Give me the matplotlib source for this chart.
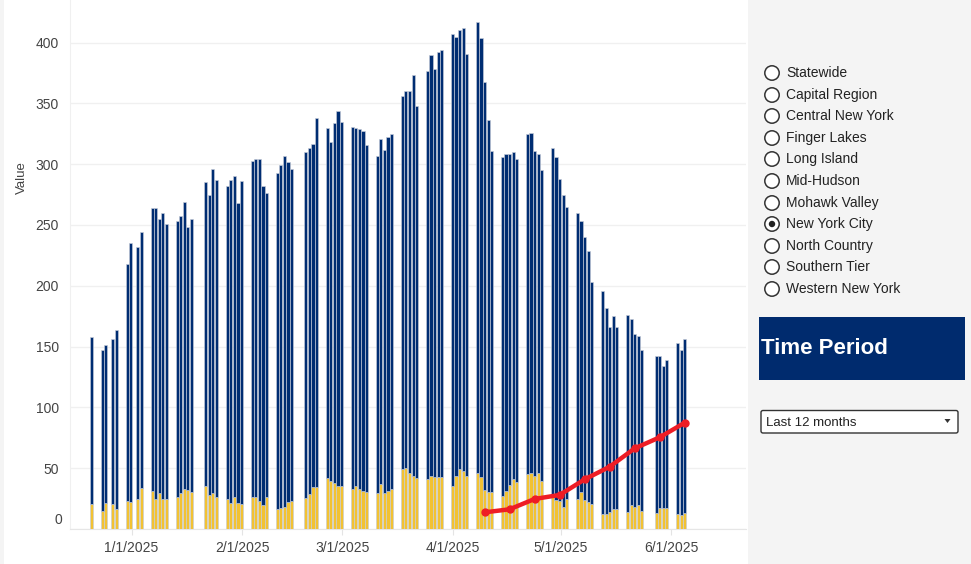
import numpy as np
import pandas as pd
import matplotlib
matplotlib.use("Agg")
import matplotlib.pyplot as plt
import matplotlib.dates as mdates
import matplotlib.patches as mpatches

plt.rcParams["font.family"] = ["Liberation Sans", "DejaVu Sans"]

# ── Data (business days, NYC) ────────────────────────────────────────────────
dates = [
    "2024-12-20", "2024-12-23", "2024-12-24", "2024-12-26", "2024-12-27", "2024-12-30", "2024-12-31",
    "2025-01-02", "2025-01-03", "2025-01-06", "2025-01-07", "2025-01-08", "2025-01-09", "2025-01-10",
    "2025-01-13", "2025-01-14", "2025-01-15", "2025-01-16", "2025-01-17", "2025-01-21", "2025-01-22",
    "2025-01-23", "2025-01-24", "2025-01-27", "2025-01-28", "2025-01-29", "2025-01-30", "2025-01-31",
    "2025-02-03", "2025-02-04", "2025-02-05", "2025-02-06", "2025-02-07", "2025-02-10", "2025-02-11",
    "2025-02-12", "2025-02-13", "2025-02-14", "2025-02-18", "2025-02-19", "2025-02-20", "2025-02-21",
    "2025-02-24", "2025-02-25", "2025-02-26", "2025-02-27", "2025-02-28",
    "2025-03-03", "2025-03-04", "2025-03-05", "2025-03-06", "2025-03-07", "2025-03-10", "2025-03-11",
    "2025-03-12", "2025-03-13", "2025-03-14", "2025-03-17", "2025-03-18", "2025-03-19", "2025-03-20",
    "2025-03-21", "2025-03-24", "2025-03-25", "2025-03-26", "2025-03-27", "2025-03-28", "2025-03-31",
    "2025-04-01", "2025-04-02", "2025-04-03", "2025-04-04", "2025-04-07", "2025-04-08", "2025-04-09",
    "2025-04-10", "2025-04-11", "2025-04-14", "2025-04-15", "2025-04-16", "2025-04-17", "2025-04-18",
    "2025-04-21", "2025-04-22", "2025-04-23", "2025-04-24", "2025-04-25", "2025-04-28", "2025-04-29",
    "2025-04-30", "2025-05-01", "2025-05-02", "2025-05-05", "2025-05-06", "2025-05-07", "2025-05-08",
    "2025-05-09", "2025-05-12", "2025-05-13", "2025-05-14", "2025-05-15", "2025-05-16", "2025-05-19",
    "2025-05-20", "2025-05-21", "2025-05-22", "2025-05-23", "2025-05-27", "2025-05-28", "2025-05-29",
    "2025-05-30", "2025-06-02", "2025-06-03", "2025-06-04",
]

total = [
    158, 147, 151, 156, 164, 218, 235,
    232, 244, 264, 264, 255, 260, 251,
    253, 257, 269, 248, 255, 285, 275,
    296, 287, 282, 287, 290, 268, 286,
    303, 304, 304, 282, 276, 293, 299,
    307, 302, 296, 310, 313, 317, 338,
    330, 318, 334, 344, 335,
    331, 330, 329, 327, 316, 307, 321,
    312, 322, 325, 356, 360, 360, 373,
    348, 377, 390, 378, 392, 394, 407,
    405, 410, 412, 391, 417, 404, 368,
    336, 311, 306, 308, 308, 310, 304,
    325, 326, 311, 308, 295, 313, 306,
    288, 275, 265, 260, 253, 240, 229,
    203, 196, 182, 166, 175, 166, 176,
    173, 160, 159, 147, 142, 142, 134,
    139, 153, 147, 156,
]

yellow = [
    20.6, 14.5, 21, 20.6, 16.7, 23, 22,
    24.7, 33.5, 31.2, 24.7, 29.3, 24.7, 24.7,
    26.6, 29.3, 32.9, 32, 30.7, 35.4, 27.7,
    29.3, 26.6, 24.7, 21, 26.6, 21.5, 20.6,
    26, 26.6, 23, 19.7, 26, 16.4, 17.5,
    18.4, 21.8, 23, 25.7, 28.5, 34.3, 34.3,
    41.7, 39.5, 37.6, 35.6, 35.6,
    32.6, 35.4, 32.6, 31.5, 30.7, 29.3, 36.7,
    29.3, 31.2, 32.6, 49, 50.4, 46.3, 43.6,
    42.2, 40.8, 43.6, 43, 42.5, 42.5, 35.4,
    43.6, 49, 48, 43.6, 45.8, 43, 32,
    30.7, 30.2, 27, 31.2, 36.2, 41, 39,
    45, 45.8, 43.6, 45.8, 39.5, 27, 24,
    23, 18, 25, 24.4, 30.7, 23.8, 22.5,
    20.6, 12.3, 12.1, 14.3, 16.4, 16.4, 14.3,
    19.7, 18.3, 19.7, 15, 12.9, 17, 17.5,
    17, 12.3, 11.5, 12.9,
]

trend_dates = ["2025-04-09", "2025-04-16", "2025-04-23", "2025-04-30", "2025-05-07",
               "2025-05-14", "2025-05-21", "2025-05-28", "2025-06-04"]
trend_vals = [13.7, 16.2, 24.7, 28, 40.8, 51.2, 66.3, 75.4, 87.4]

y_ticks = [0, 50, 100, 150, 200, 250, 300, 350, 400]
month_ticks = ["2025-01-01", "2025-02-01", "2025-03-01", "2025-04-01", "2025-05-01", "2025-06-01"]
month_labels = ["1/1/2025", "2/1/2025", "3/1/2025", "4/1/2025", "5/1/2025", "6/1/2025"]

regions = ["Statewide", "Capital Region", "Central New York", "Finger Lakes", "Long Island",
           "Mid-Hudson", "Mohawk Valley", "New York City", "North Country", "Southern Tier",
           "Western New York"]
selected_region = "New York City"

# ── Style ────────────────────────────────────────────────────────────────────
NAVY = "#002d72"
GOLD = "#f2c233"
EDGE = "#c6ccd9"
RED = "#ee1d25"
PANEL = "#f4f4f4"
TXT = "#444444"

W, H = 971, 564
fig = plt.figure(figsize=(W / 100, H / 100), dpi=100)
fig.patch.set_facecolor("white")

# main chart axes in pixel terms: x 70..746, y 0..529 (from top)
ax = fig.add_axes([70 / W, (H - 529) / H, (746 - 70) / W, 529 / H])
ax.set_facecolor("white")

BAR_SHIFT = 0.75  # bars sit a bit right of the midnight tick, as in the source
x = mdates.date2num(pd.to_datetime(dates)) + BAR_SHIFT
tot = np.array(total, dtype=float)
yel = np.array(yellow, dtype=float)

ax.bar(x, yel, width=0.88, color=GOLD, edgecolor=EDGE, linewidth=0.45, zorder=3)
ax.bar(x, tot - yel, bottom=yel, width=0.88, color=NAVY, edgecolor=EDGE, linewidth=0.45, zorder=3)

tx = mdates.date2num(pd.to_datetime(trend_dates)) + BAR_SHIFT
ax.plot(tx, trend_vals, color=RED, linewidth=3.2, marker="o", markersize=5,
        solid_capstyle="round", solid_joinstyle="round", zorder=5)

jan1 = mdates.date2num(pd.Timestamp("2025-01-01"))
ax.set_xlim(jan1 - 17.24, jan1 + 171.9)
ax.set_ylim(0, 529 / 1.216)

ax.set_yticks(y_ticks)
ax.set_yticklabels([""] + [str(v) for v in y_ticks[1:]])
ax.annotate("0", xy=(0, 0), xycoords=("axes fraction", "data"),
            xytext=(-8, 9), textcoords="offset pixels",
            ha="right", va="center", fontsize=10, color=TXT)
ax.set_xticks(mdates.date2num(pd.to_datetime(month_ticks)))
ax.set_xticklabels(month_labels)
ax.tick_params(axis="y", length=0, pad=8, labelsize=10, labelcolor=TXT)
ax.tick_params(axis="x", length=4, width=0.8, color="#e4e4e4", pad=5,
               labelsize=10, labelcolor=TXT)

ax.yaxis.grid(True, color="#f0f0f0", linewidth=1, zorder=0)
for side in ("top", "right"):
    ax.spines[side].set_visible(False)
ax.spines["bottom"].set_color("#e6e6e6")
ax.spines["left"].set_color("#f0f0f0")

fig.text(22 / W, 1 - 178 / H, "Value", rotation=90, ha="center", va="center",
         fontsize=9.5, color=TXT)

# thin grey strip on the far left edge
fig.add_artist(mpatches.Rectangle((0, 0), 4 / W, 1, transform=fig.transFigure,
                                  facecolor=PANEL, edgecolor="none"))

# ── Right control panel (pixel coordinates, y grows downward) ────────────────
px0 = 748
pan = fig.add_axes([px0 / W, 0, (W - px0) / W, 1])
pan.set_facecolor(PANEL)
pan.set_xlim(0, W - px0)
pan.set_ylim(H, 0)
pan.axis("off")
pan.add_patch(mpatches.Rectangle((0, 0), W - px0, H, facecolor=PANEL, edgecolor="none"))

radio_y = [73, 95, 116, 138, 159, 181, 203, 224, 246, 267, 289]
for name, ry in zip(regions, radio_y):
    pan.add_patch(mpatches.Circle((24, ry), 7.2, facecolor="white",
                                  edgecolor="#333333", linewidth=1.1))
    if name == selected_region:
        pan.add_patch(mpatches.Circle((24, ry), 3.2, facecolor="#222222", edgecolor="none"))
    pan.text(38, ry, name, ha="left", va="center", fontsize=10, color="#222222")

pan.add_patch(mpatches.Rectangle((759 - px0, 317), 206, 63, facecolor="#002b6e", edgecolor="none"))
pan.text(761 - px0, 349, "Time Period", ha="left", va="center", fontsize=16,
         fontweight="bold", color="white")

pan.add_patch(mpatches.FancyBboxPatch((761 - px0, 410.5), 197, 22.5,
                                      boxstyle="round,pad=0,rounding_size=2",
                                      facecolor="white", edgecolor="#333333", linewidth=1))
pan.text(766 - px0, 422.5, "Last 12 months", ha="left", va="center", fontsize=9.5, color="#222222")
pan.add_patch(mpatches.Polygon([(944.5 - px0, 419), (950.5 - px0, 419), (947.5 - px0, 423)],
                               closed=True, facecolor="#333333", edgecolor="none"))

fig.savefig("out.png", dpi=100)
